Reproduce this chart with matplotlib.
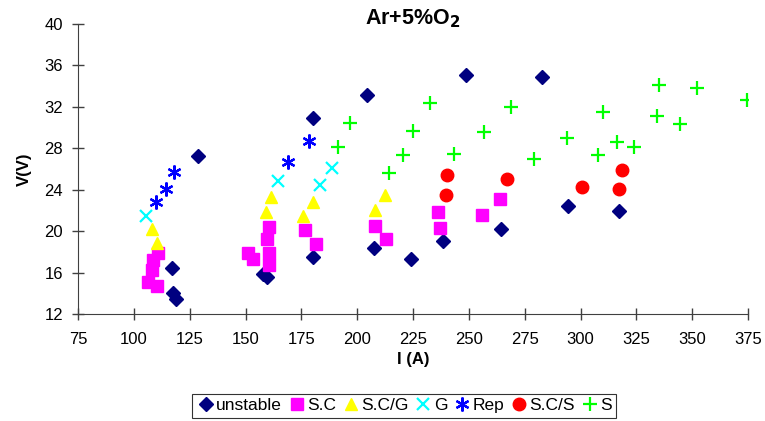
import matplotlib.pyplot as plt

plt.rcParams['font.family'] = ['Liberation Sans', 'DejaVu Sans']

# data
unstable_i = [128.9, 117.0, 117.4, 118.8, 158.0, 159.5, 180.4, 180.0, 204.3, 207.6,
              248.8, 282.7, 224.1, 238.2, 264.2, 294.4, 317.1]
unstable_v = [27.3, 16.4, 14.0, 13.45, 15.86, 15.54, 30.95, 17.47, 33.14, 18.34,
              35.04, 34.88, 17.28, 19.08, 20.21, 22.46, 21.98]

sc_i = [106.5, 110.2, 108.0, 108.7, 110.7, 150.9, 153.3, 160.6, 159.8, 160.6, 160.6,
        176.7, 181.6, 208.1, 213.0, 236.0, 236.9, 256.0, 264.1]
sc_v = [15.12, 14.74, 16.3, 17.2, 17.92, 17.86, 17.31, 20.37, 19.2, 17.86, 16.73,
        20.1, 18.76, 20.53, 19.21, 21.9, 20.34, 21.56, 23.07]

scg_i = [108.0, 110.5, 159.2, 161.3, 175.7, 180.0, 208.1, 212.5]
scg_v = [20.18, 18.83, 21.88, 23.33, 21.46, 22.84, 22.04, 23.49]

g_i = [105.5, 164.7, 183.4, 188.9]
g_v = [21.46, 24.84, 24.43, 26.13]

rep_i = [109.8, 114.4, 118.0, 168.9, 178.2]
rep_v = [22.78, 24.04, 25.68, 26.71, 28.7]

scs_i = [240.1, 239.6, 266.9, 300.8, 318.3, 317.2]
scs_v = [25.39, 23.49, 25.06, 24.29, 25.87, 24.04]

s_i = [191.3, 196.6, 214.0, 220.5, 225.0, 232.4, 243.5, 256.9, 269.0, 279.2, 293.8,
       307.7, 309.9, 316.5, 323.8, 334.0, 335.3, 344.6, 352.2, 374.3]
s_v = [28.15, 30.41, 25.58, 27.38, 29.67, 32.34, 27.45, 29.57, 31.99, 26.97, 29.03,
       27.35, 31.47, 28.58, 28.12, 31.09, 34.11, 30.34, 33.79, 32.66]

fig = plt.figure(figsize=(7.65, 4.21), dpi=100)
ax = fig.add_axes([0.102, 0.254, 0.876, 0.689])

ax.plot(unstable_i, unstable_v, 'D', color='#000080', ms=7, ls='none', label='unstable')
ax.plot(sc_i, sc_v, 's', color='#FF00FF', ms=9, ls='none', label='S.C')
ax.plot(scg_i, scg_v, '^', color='#FFFF00', ms=9, ls='none', label='S.C/G')
ax.plot(g_i, g_v, 'x', color='#00FFFF', ms=9, mew=1.6, ls='none', label='G')
ax.plot(rep_i, rep_v, marker=(6, 2, 0), color='#0000FF', ms=10, mew=1.6, ls='none', label='Rep')
ax.plot(scs_i, scs_v, 'o', color='#FF0000', ms=9, ls='none', label='S.C/S')
ax.plot(s_i, s_v, '+', color='#00FF00', ms=10, mew=1.6, ls='none', label='S')

ax.set_xlim(75, 375)
ax.set_ylim(12, 40)
ax.set_xticks(range(75, 376, 25))
ax.set_yticks(range(12, 41, 4))
for side in ['top', 'right']:
    ax.spines[side].set_visible(False)
for side in ['left', 'bottom']:
    ax.spines[side].set_color('#404040')
ax.tick_params(direction='inout', length=8.5, width=1, colors='#404040',
               labelcolor='black', labelsize=12)
ax.tick_params(axis='x', pad=9)
ax.tick_params(axis='y', pad=6.5)

t = ax.set_title('Ar+5%O$_\\mathbf{2}$', fontsize=15.5, y=0.998, pad=0)
t.set_fontweight('bold')
ax.set_xlabel('I (A)', fontsize=12, fontweight='bold', labelpad=3)
ax.set_ylabel('V(V)', fontsize=12, fontweight='bold', labelpad=9)

leg = fig.legend(loc='center', bbox_to_anchor=(0.528, 0.036), ncol=7, fontsize=12.5,
                 frameon=True, fancybox=False, edgecolor='black', handletextpad=0.05,
                 columnspacing=0.3, handlelength=1.1, borderpad=0.25)
leg.get_frame().set_linewidth(0.8)

fig.savefig('out.png', dpi=100)
